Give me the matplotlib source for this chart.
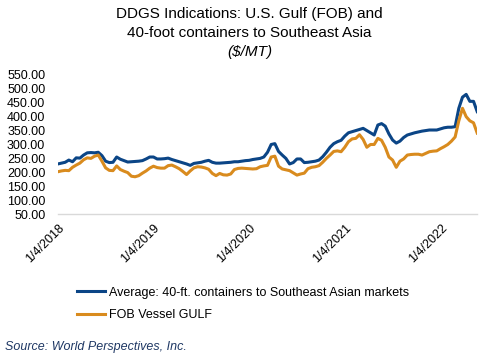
import numpy as np
import pandas as pd
import matplotlib
matplotlib.use("Agg")
import matplotlib.pyplot as plt

plt.rcParams['font.family'] = ['Liberation Sans', 'DejaVu Sans']

# biweekly observations starting 1/4/2018
dates = pd.date_range('2018-01-04', periods=115, freq='14D')

container_avg = [
    230, 233, 236, 244, 238, 252, 251, 262, 270, 271,
    270, 272, 260, 240, 235, 236, 255, 247, 242, 237,
    238, 239, 240, 242, 248, 255, 255, 248, 248, 249,
    251, 246, 242, 238, 234, 230, 225, 232, 234, 236,
    240, 243, 236, 233, 233, 234, 235, 236, 238, 238,
    240, 242, 243, 246, 248, 250, 255, 272, 300, 303,
    275, 262, 250, 230, 235, 248, 248, 235, 236, 238,
    240, 244, 256, 272, 290, 303, 310, 315, 330, 342,
    346, 350, 354, 358, 350, 342, 334, 370, 375, 366,
    338, 316, 305, 312, 325, 334, 338, 342, 345, 348,
    350, 352, 352, 352, 356, 360, 362, 362, 364, 430,
    470, 480, 455, 455, 418,
]

fob_gulf = [
    202, 205, 207, 206, 218, 226, 233, 245, 252, 250,
    258, 262, 240, 216, 207, 206, 223, 210, 204, 199,
    186, 184, 188, 197, 205, 215, 222, 217, 215, 215,
    224, 226, 220, 213, 203, 192, 205, 216, 220, 219,
    216, 211, 196, 188, 196, 191, 190, 194, 210, 214,
    215, 214, 213, 212, 213, 220, 223, 225, 255, 258,
    222, 212, 209, 206, 198, 190, 194, 197, 213, 218,
    220, 224, 236, 250, 262, 275, 277, 274, 290, 310,
    320, 322, 335, 318, 290, 300, 300, 322, 315, 290,
    255, 244, 218, 240, 248, 262, 264, 265, 265, 262,
    268, 274, 276, 277, 285, 292, 300, 312, 327, 385,
    430, 400, 385, 378, 341,
]

tick_dates = pd.to_datetime(['2018-01-04', '2019-01-04', '2020-01-04',
                             '2021-01-04', '2022-01-04'])
tick_labels = ['1/4/2018', '1/4/2019', '1/4/2020', '1/4/2021', '1/4/2022']
y_ticks = np.arange(50, 551, 50)

blue = '#0b4586'
orange = '#d98b1e'

fig = plt.figure(figsize=(4.94, 3.55), dpi=100)
ax = fig.add_axes([0.117, 0.397, 0.849, 0.392])

ax.plot(dates, container_avg, color=blue, lw=2.2,
        label='Average: 40-ft. containers to Southeast Asian markets')
ax.plot(dates, fob_gulf, color=orange, lw=2.2, label='FOB Vessel GULF')

ax.set_ylim(50, 550)
ax.set_yticks(y_ticks)
ax.set_yticklabels([f'{v:.2f}' for v in y_ticks], fontsize=9)
ax.set_xlim(dates[0], dates[-1])
ax.set_xticks(tick_dates)
ax.set_xticklabels(tick_labels, rotation=45, ha='right', rotation_mode='anchor', fontsize=9)
ax.tick_params(axis='y', length=0, pad=9)
ax.tick_params(axis='x', length=0, pad=6)

for s in ['top', 'right', 'left']:
    ax.spines[s].set_visible(False)
ax.spines['bottom'].set_color('#d9d9d9')
ax.spines['bottom'].set_linewidth(1)

fig.text(0.505, 0.961, 'DDGS Indications: U.S. Gulf (FOB) and', ha='center', va='center', fontsize=11)
fig.text(0.505, 0.907, '40-foot containers to Southeast Asia', ha='center', va='center', fontsize=11)
fig.text(0.505, 0.853, '($/MT)', ha='center', va='center', fontsize=11, style='italic')

fig.legend(loc='upper left', bbox_to_anchor=(0.145, 0.207), frameon=False, fontsize=9,
           handlelength=2.3, handletextpad=0.3, labelspacing=0.85, borderaxespad=0)

fig.text(0.01, 0.023, 'Source: World Perspectives, Inc.', ha='left', va='center',
         fontsize=9, style='italic', color='#1f3864')

fig.savefig('out.png', dpi=100)
